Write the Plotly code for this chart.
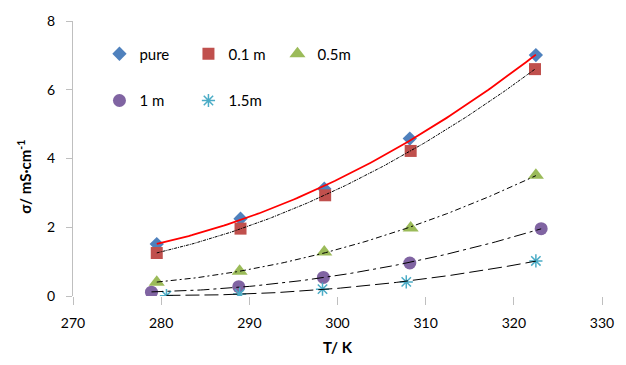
import numpy as np
import plotly.graph_objects as go

# Conductivity vs temperature for several concentrations
T_pure = [279.5, 289.0, 298.5, 308.2, 322.5]
sigma_pure = [1.51, 2.25, 3.12, 4.58, 7.01]

T_01 = [279.5, 289.0, 298.6, 308.3, 322.4]
sigma_01 = [1.25, 1.96, 2.93, 4.22, 6.60]

T_05 = [279.5, 288.9, 298.5, 308.3, 322.5]
sigma_05 = [0.40, 0.72, 1.28, 1.98, 3.51]

T_1 = [278.9, 288.8, 298.4, 308.2, 323.1]
sigma_1 = [0.11, 0.27, 0.54, 0.96, 1.96]

T_15 = [280.6, 288.9, 298.3, 307.8, 322.5]
sigma_15 = [0.01, 0.06, 0.20, 0.41, 1.02]

x_ticks = [270, 280, 290, 300, 310, 320, 330]
y_ticks = [0, 2, 4, 6, 8]

FONT = "Lato, 'Liberation Sans', sans-serif"

series = [
    # name, T, sigma, color, symbol, size, legend, fit color, fit width, fit dash
    ("pure", T_pure, sigma_pure, "#4F81BD", "diamond", 11, "legend", "#FF0000", 1.8, "solid"),
    ("0.1 m", T_01, sigma_01, "#C0504D", "square", 12, "legend", "#000000", 1.0, "3px,1px,1px,1px"),
    ("0.5m", T_05, sigma_05, "#9BBB59", "triangle-up", 14, "legend", "#000000", 1.0, "6px,3px,2px,3px"),
    ("1 m", T_1, sigma_1, "#8064A2", "circle", 13, "legend2", "#000000", 1.0, "12px,4px,3px,4px"),
    ("1.5m", T_15, sigma_15, "#4BACC6", "asterisk-open", 11, "legend2", "#000000", 1.0, "14px,5px"),
]

fig = go.Figure()

for name, T, s, color, symbol, size, leg, fcol, fw, fdash in series:
    marker = dict(color=color, symbol=symbol, size=size)
    if symbol.endswith("open"):
        marker["line"] = dict(color=color, width=1.5)
    else:
        marker["line"] = dict(width=0)
    fig.add_trace(go.Scatter(
        x=T, y=s, mode="markers", name=name, marker=marker, legend=leg,
    ))

# Second-order polynomial trend lines over each series' range
for name, T, s, color, symbol, size, leg, fcol, fw, fdash in series:
    coef = np.polyfit(T, s, 2)
    tt = np.linspace(min(T), max(T), 120)
    fig.add_trace(go.Scatter(
        x=tt, y=np.polyval(coef, tt), mode="lines", showlegend=False,
        line=dict(color=fcol, width=fw, dash=fdash), hoverinfo="skip",
    ))

legend_common = dict(
    orientation="h", xanchor="left", yanchor="middle",
    bgcolor="rgba(0,0,0,0)", borderwidth=0,
    font=dict(family=FONT, size=15, color="#000000"),
    entrywidth=44, entrywidthmode="pixels", itemclick=False,
)

fig.update_layout(
    width=626, height=365,
    margin=dict(l=73, r=13, t=21, b=68),
    paper_bgcolor="white", plot_bgcolor="white",
    font=dict(family=FONT, size=14, color="#000000"),
    legend=dict(x=0.050, y=0.880, **legend_common),
    legend2=dict(x=0.050, y=0.710, **legend_common),
    xaxis=dict(
        range=[270, 330], tickvals=x_ticks, ticktext=[str(v) for v in x_ticks],
        showgrid=False, zeroline=False, showline=False,
        ticks="outside", ticklen=8, tickcolor="#BFBFBF", tickwidth=1,
        ticklabelstandoff=6,
        title=dict(text="<b>T/ K</b>", standoff=12, font=dict(family=FONT, size=15)),
    ),
    yaxis=dict(
        range=[0, 8], tickvals=y_ticks, ticktext=[str(v) for v in y_ticks],
        showgrid=False, zeroline=False, showline=True, linecolor="#BFBFBF", linewidth=1,
        ticks="outside", ticklen=6, tickcolor="#BFBFBF", tickwidth=1,
        ticklabelstandoff=8,
    ),
    annotations=[dict(
        text="<b>σ/ mS·cm<sup>-1</sup></b>", textangle=-90,
        xref="paper", yref="paper", x=-0.092, y=0.435,
        xanchor="center", yanchor="middle", showarrow=False,
        font=dict(family=FONT, size=15),
    )],
)

fig.write_html("out.html")
